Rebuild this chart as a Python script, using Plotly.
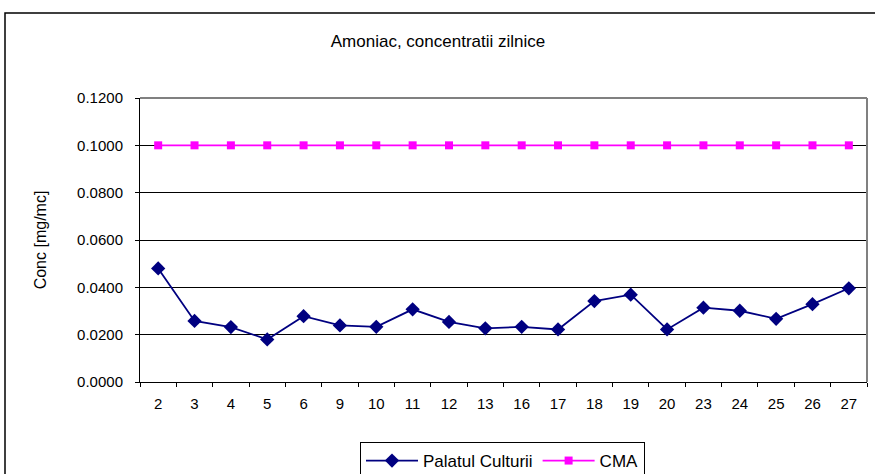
import plotly.graph_objects as go

days = ["2", "3", "4", "5", "6", "9", "10", "11", "12", "13",
        "16", "17", "18", "19", "20", "23", "24", "25", "26", "27"]
palatul = [0.0480, 0.0258, 0.0232, 0.0180, 0.0278, 0.0239, 0.0233, 0.0307, 0.0254, 0.0227,
           0.0233, 0.0222, 0.0342, 0.0369, 0.0222, 0.0314, 0.0301, 0.0267, 0.0329, 0.0396]
cma = [0.1] * 20
yticks = [0.0, 0.02, 0.04, 0.06, 0.08, 0.10, 0.12]

W, H = 875, 474
L, R, T, B = 140, 8, 98, 92
pw = W - L - R
ph = H - T - B

fig = go.Figure()
fig.add_trace(go.Scatter(
    x=days, y=palatul, name="Palatul Culturii", mode="lines+markers",
    line=dict(color="#000080", width=1.8),
    marker=dict(symbol="diamond", size=11, color="#000080"),
))
fig.add_trace(go.Scatter(
    x=days, y=cma, name="CMA", mode="lines+markers",
    line=dict(color="#FF00FF", width=1.8),
    marker=dict(symbol="square", size=8, color="#FF00FF"),
))

font = "Liberation Sans, Arial, sans-serif"
fig.update_layout(
    width=W, height=H, autosize=False,
    margin=dict(l=L, r=R, t=T, b=B, pad=0, autoexpand=False),
    paper_bgcolor="white", plot_bgcolor="white",
    font=dict(family=font, size=15, color="black"),
    title=dict(text="Amoniac, concentratii zilnice", x=438 / W, xanchor="center",
               y=1 - 41 / H, yanchor="middle", font=dict(size=17)),
    showlegend=True,
    legend=dict(orientation="h", x=(360 - L) / pw, xanchor="left",
                y=-(442 - (T + ph)) / ph, yanchor="top",
                bordercolor="black", borderwidth=1, bgcolor="white",
                font=dict(size=17), itemwidth=52, tracegroupgap=0),
    xaxis=dict(type="category", showline=True, linecolor="black", linewidth=1,
               ticks="outside", ticklen=4, tickcolor="black", tickson="boundaries",
               showgrid=False, zeroline=False, tickfont=dict(size=15),
               ticklabelstandoff=8,
               range=[-0.5, len(days) - 0.5], automargin=False),
    yaxis=dict(range=[0, 0.12], tickvals=yticks, tickformat=".4f",
               showline=True, linecolor="black", linewidth=1,
               ticks="outside", ticklen=4, tickcolor="black",
               showgrid=True, gridcolor="black", gridwidth=1, zeroline=False,
               tickfont=dict(size=15), automargin=False, ticklabelstandoff=9,
               title=dict(text="Conc [mg/mc]", font=dict(size=16), standoff=26)),
    shapes=[
        dict(type="line", xref="paper", yref="paper", x0=0, x1=1, y0=1, y1=1,
             line=dict(color="#808080", width=2)),
        dict(type="line", xref="paper", yref="paper", x0=1, x1=1, y0=0, y1=1,
             line=dict(color="#808080", width=2)),
        dict(type="rect", xref="paper", yref="paper",
             x0=(5 - L) / pw, x1=(W + 20 - L) / pw,
             y0=-(H + 20 - T - ph) / ph, y1=(T + ph - 13) / ph,
             line=dict(color="black", width=1.5), layer="below"),
    ],
)

fig.write_html("out.html", config={"displayModeBar": False},
               post_script="document.body.style.margin='0';document.body.style.overflow='hidden';")
